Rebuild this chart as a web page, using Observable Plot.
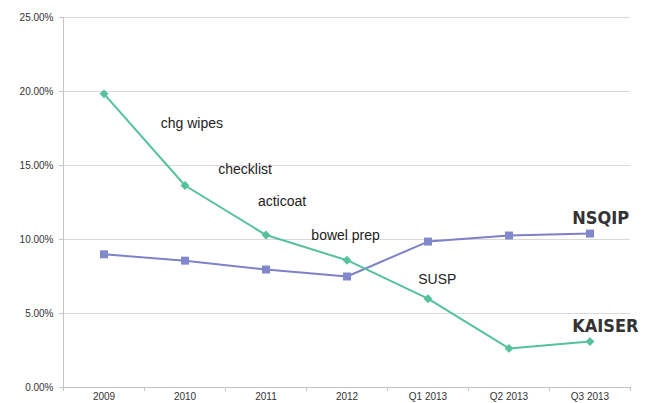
<!DOCTYPE html>
<html>
<head>
<meta charset="utf-8">
<script src="https://cdn.jsdelivr.net/npm/d3@7"></script>
<script src="https://cdn.jsdelivr.net/npm/@observablehq/plot@0.6"></script>
<style>
  html, body { margin: 0; padding: 0; background: #fff; }
  #chart svg { display: block; }
</style>
</head>
<body>
<div id="chart"></div>
<script>
const categories = ["2009", "2010", "2011", "2012", "Q1 2013", "Q2 2013", "Q3 2013"];
const kaiser = [19.84, 13.65, 10.3, 8.6, 6.0, 2.64, 3.1];
const nsqip = [9.0, 8.57, 7.97, 7.5, 9.86, 10.27, 10.4];
const yTicks = [0, 5, 10, 15, 20, 25];
const notes = ["chg wipes", "checklist", "acticoat", "bowel prep", "SUSP"];
const noteX = [0.70, 1.41, 1.90, 2.56, 3.88];
const noteY = [17.84, 14.73, 12.59, 10.27, 7.30];
const seriesNames = ["NSQIP", "KAISER"];
const seriesLabelX = [5.78, 5.78];
const seriesLabelY = [11.45, 4.12];

const idx = categories.map((_, i) => i);
const bounds = d3.range(categories.length + 1).map(i => i - 0.5);

const teal = "#56c19f";
const purple = "#7d81c8";

const chart = Plot.plot({
  width: 654,
  height: 403,
  marginLeft: 63,
  marginRight: 24,
  marginTop: 17,
  marginBottom: 16,
  style: { fontFamily: "'Liberation Sans', Arial, sans-serif", fontSize: "10px", color: "#333", background: "#fff" },
  x: { type: "linear", domain: [-0.5, categories.length - 0.5], axis: null },
  y: { domain: [0, 25], axis: null },
  marks: [
    Plot.ruleY(yTicks.filter(d => d > 0), { stroke: "#d9d9d9", strokeWidth: 1 }),
    Plot.ruleX([-0.5], { stroke: "#c4c4c4" }),
    Plot.ruleY([0], { stroke: "#c4c4c4" }),
    Plot.axisY({ ticks: yTicks, tickSize: 4, tickPadding: 6, tickFormat: d => d.toFixed(2) + "%", stroke: "#c4c4c4", fill: "#333", fontSize: 10 }),
    Plot.axisX({ ticks: bounds, tickSize: 4, tickFormat: () => "", stroke: "#c4c4c4" }),
    Plot.axisX({ ticks: idx, tickSize: 0, tickPadding: 5, tickFormat: i => categories[i], fill: "#333", fontSize: 10 }),
    Plot.line(idx, { x: i => i, y: i => nsqip[i], stroke: purple, strokeWidth: 2 }),
    Plot.dot(idx, { x: i => i, y: i => nsqip[i], symbol: "square", r: 4.5, fill: "#8387cc", stroke: "none" }),
    Plot.line(idx, { x: i => i, y: i => kaiser[i], stroke: teal, strokeWidth: 2 }),
    Plot.dot(idx, { x: i => i, y: i => kaiser[i], symbol: "diamond2", r: 4, fill: teal, stroke: "none" }),
    Plot.text(notes, { x: (d, i) => noteX[i], y: (d, i) => noteY[i], text: d => d, textAnchor: "start", fontSize: 14, fill: "#222" }),
    Plot.text(seriesNames, { x: (d, i) => seriesLabelX[i], y: (d, i) => seriesLabelY[i], text: d => d, textAnchor: "start", fontSize: 18, fontWeight: "bold", fontFamily: "'DejaVu Sans Condensed', 'DejaVu Sans', sans-serif", fill: "#333" })
  ]
});
document.getElementById("chart").append(chart);
</script>
</body>
</html>
